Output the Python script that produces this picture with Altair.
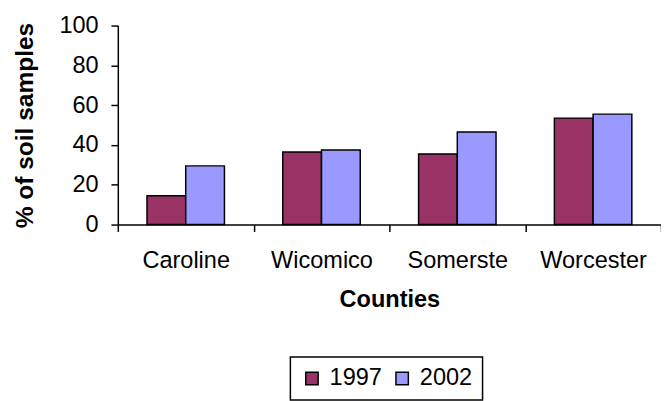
import altair as alt
import pandas as pd

counties = ["Caroline", "Wicomico", "Somerste", "Worcester"]
years = ["1997", "2002"]
values_1997 = [14.5, 36.5, 35.5, 53.5]
values_2002 = [29.5, 37.5, 46.5, 55.5]
colors = ["#993366", "#9999FF"]
y_ticks = [0, 20, 40, 60, 80, 100]

rows = []
for c, a, b in zip(counties, values_1997, values_2002):
    rows.append({"County": c, "Year": years[0], "Value": a})
    rows.append({"County": c, "Year": years[1], "Value": b})
df = pd.DataFrame(rows)

FONT = "Liberation Sans"

chart = alt.Chart(df).mark_bar(stroke="black", strokeWidth=1.5).encode(
    x=alt.X("County:N", sort=counties,
            scale=alt.Scale(paddingInner=0, paddingOuter=0),
            axis=alt.Axis(title="Counties", labelAngle=0, tickBand="extent",
                          labelFontSize=24, labelPadding=18, tickSize=7,
                          titleFontSize=24, titleFontWeight="bold", titlePadding=16,
                          domainColor="black", tickColor="black", domainWidth=1.5,
                          tickWidth=1.5, labelColor="black", titleColor="black",
                          labelFont=FONT, titleFont=FONT)),
    xOffset=alt.XOffset("Year:N", sort=years,
                        scale=alt.Scale(paddingInner=0, paddingOuter=0.753)),
    y=alt.Y("Value:Q",
            scale=alt.Scale(domain=[0, 100], nice=False),
            axis=alt.Axis(title="% of soil samples", values=y_ticks, grid=False,
                          labelFontSize=24, labelPadding=13, tickSize=7,
                          titleFontSize=25, titleFontWeight="bold", titlePadding=22,
                          domainColor="black", tickColor="black", domainWidth=1.5,
                          tickWidth=1.5, labelColor="black", titleColor="black",
                          labelFont=FONT, titleFont=FONT)),
    fill=alt.Fill("Year:N", sort=years,
                  scale=alt.Scale(domain=years, range=colors),
                  legend=alt.Legend(title=None, orient="none", legendX=176, legendY=338,
                                    direction="horizontal", symbolType="square",
                                    symbolSize=160, symbolStrokeColor="black",
                                    symbolStrokeWidth=1.5, labelFontSize=24,
                                    labelFont=FONT, labelColor="black",
                                    labelOffset=6, columnPadding=8, padding=10,
                                    strokeColor="black")),
).properties(
    width=554,
    height=203,
    autosize=alt.AutoSizeParams(type="none"),
    padding={"left": 112, "top": 14, "right": 0, "bottom": 176},
).configure_view(stroke=None).configure_legend(strokeWidth=1.5)

chart.save("out.html", embed_options={"renderer": "svg", "actions": False})
